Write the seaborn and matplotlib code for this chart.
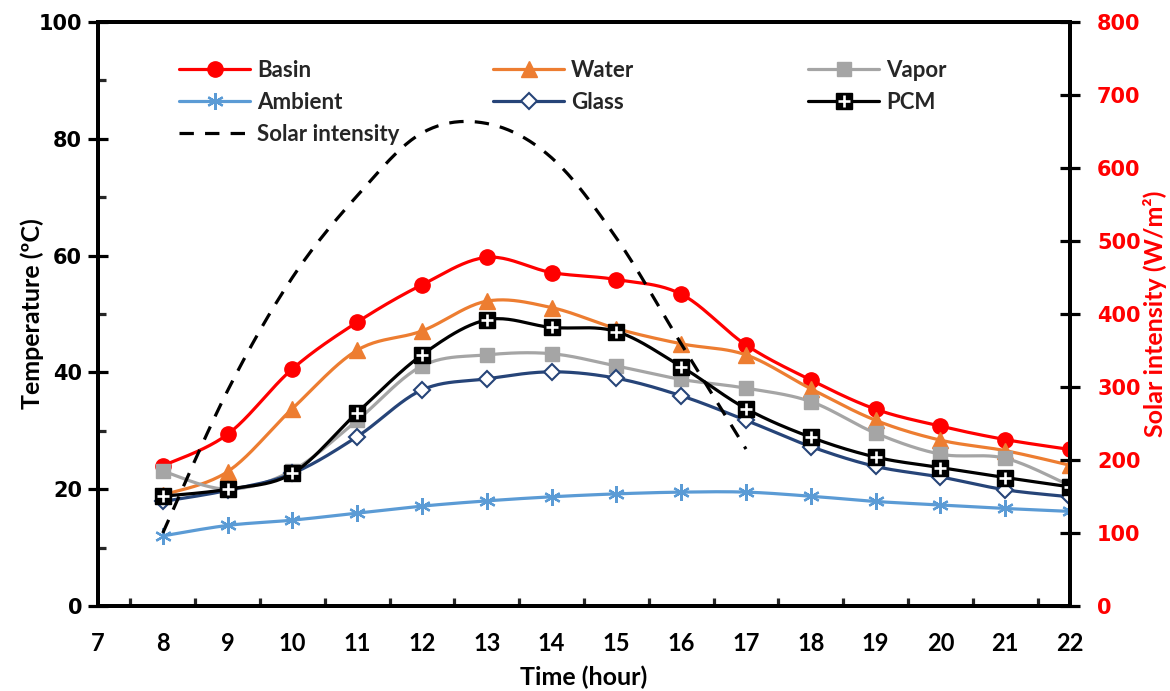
import numpy as np
import matplotlib
matplotlib.use("Agg")
import matplotlib.pyplot as plt
import seaborn as sns
from matplotlib.lines import Line2D
from matplotlib.legend_handler import HandlerTuple
from matplotlib.ticker import MultipleLocator, FixedLocator

# ---------------- data ----------------
hours = [8, 9, 10, 11, 12, 13, 14, 15, 16, 17, 18, 19, 20, 21, 22]
basin = [24.0, 29.4, 40.6, 48.6, 55.0, 59.7, 57.1, 55.9, 53.4, 44.7, 38.7, 33.7, 30.8, 28.5, 26.8]
water = [19.0, 23.0, 33.8, 43.8, 47.1, 52.2, 51.1, 47.5, 44.9, 43.0, 37.2, 31.8, 28.4, 26.6, 24.1]
vapor = [23.1, 20.0, 23.2, 31.8, 41.1, 43.0, 43.2, 41.1, 38.8, 37.3, 35.0, 29.6, 26.0, 25.3, 20.6]
ambient = [12.0, 13.8, 14.7, 15.9, 17.1, 18.0, 18.7, 19.2, 19.5, 19.5, 18.8, 17.9, 17.3, 16.7, 16.2]
glass = [17.9, 19.8, 22.7, 29.0, 37.0, 38.9, 40.1, 39.0, 36.0, 31.8, 27.3, 23.9, 22.1, 19.9, 18.7]
pcm = [18.8, 20.0, 22.7, 33.1, 43.0, 49.0, 47.7, 47.0, 41.0, 33.8, 28.9, 25.5, 23.7, 22.0, 20.4]

solar_hours = [8, 9, 10, 11, 12, 13, 14, 15, 16, 17]
solar = [100, 295, 450, 562, 648, 661, 614, 504, 359, 215]

x_ticks = list(range(7, 23))
temp_ticks = [0, 20, 40, 60, 80, 100]
solar_ticks = [0, 100, 200, 300, 400, 500, 600, 700, 800]

# ---------------- style ----------------
sns.set_theme(style="white")
plt.rcParams["font.family"] = ["Lato", "DejaVu Sans"]
plt.rcParams["axes.edgecolor"] = "black"

RED = "#FF0000"
ORANGE = "#ED7D31"
GRAY = "#A5A5A5"
LBLUE = "#5B9BD5"
DBLUE = "#264478"
BLACK = "#000000"
LW = 2.3


def smooth(x, y, n=24):
    """Excel-like smoothed path (Catmull-Rom through the data points)."""
    P = np.column_stack([np.asarray(x, float), np.asarray(y, float)])
    P = np.vstack([P[0], P, P[-1]])
    t = np.linspace(0, 1, n, endpoint=False)[:, None]
    segs = []
    for i in range(1, len(P) - 2):
        p0, p1, p2, p3 = P[i - 1], P[i], P[i + 1], P[i + 2]
        segs.append(0.5 * (2 * p1 + (-p0 + p2) * t
                           + (2 * p0 - 5 * p1 + 4 * p2 - p3) * t ** 2
                           + (-p0 + 3 * p1 - 3 * p2 + p3) * t ** 3))
    segs.append(P[-2][None, :])
    s = np.vstack(segs)
    return s[:, 0], s[:, 1]


fig = plt.figure(figsize=(11.7, 6.91), dpi=100)
ax = fig.add_axes([98 / 1170, 1 - 606 / 691, (1070 - 98) / 1170, (606 - 22) / 691])
ax2 = ax.twinx()

ASTERISK = (6, 2, 0)

series = [
    ("Basin", basin, RED, dict(marker="o", markersize=11, mfc=RED, mec=RED, mew=1)),
    ("Water", water, ORANGE, dict(marker="^", markersize=11, mfc=ORANGE, mec=ORANGE, mew=1)),
    ("Vapor", vapor, GRAY, dict(marker="s", markersize=10, mfc=GRAY, mec=GRAY, mew=1)),
    ("Ambient", ambient, LBLUE, dict(marker=ASTERISK, markersize=12, mfc=LBLUE, mec=LBLUE, mew=1.6)),
    ("Glass", glass, DBLUE, dict(marker="D", markersize=8.5, mfc="white", mec=DBLUE, mew=1.5)),
    ("PCM", pcm, BLACK, dict(marker="s", markersize=11, mfc=BLACK, mec=BLACK, mew=1)),
]

handles = {}
for z, (name, vals, col, mk) in enumerate(series):
    sx, sy = smooth(hours, vals)
    sns.lineplot(x=sx, y=sy, ax=ax, color=col, lw=LW, sort=False, estimator=None,
                 zorder=3 + z)
    sns.lineplot(x=hours, y=vals, ax=ax, color=col, linestyle="none", sort=False,
                 estimator=None, zorder=3.5 + z, **mk)
    h = Line2D([], [], color=col, lw=LW, **mk)
    if name == "PCM":
        sns.lineplot(x=hours, y=vals, ax=ax, color="white", linestyle="none", sort=False,
                     estimator=None, marker="+", markersize=9, mew=1.9, zorder=3.6 + z)
        plus = Line2D([], [], color="white", linestyle="none", marker="+",
                      markersize=9, mew=1.9)
        h = (h, plus)
    handles[name] = h

# solar intensity on secondary axis
ssx, ssy = smooth(solar_hours, solar)
sns.lineplot(x=ssx, y=ssy, ax=ax2, color=BLACK, lw=LW, sort=False, estimator=None,
             dashes=False, linestyle=(0, (4.5, 3.5)))
handles["Solar intensity"] = Line2D([], [], color=BLACK, lw=LW, linestyle=(0, (4.5, 3.5)))

# ---------------- axes ----------------
ax.set_xlim(7, 22)
ax.set_ylim(0, 100)
ax2.set_ylim(0, 800)

ax.set_xticks(x_ticks)
ax.set_xticklabels([str(v) for v in x_ticks])
ax.xaxis.set_minor_locator(FixedLocator(np.arange(7.5, 22, 1.0)))
ax.set_yticks(temp_ticks)
ax.set_yticklabels([str(v) for v in temp_ticks])
ax.yaxis.set_minor_locator(MultipleLocator(10))
ax2.set_yticks(solar_ticks)
ax2.set_yticklabels([str(v) for v in solar_ticks])

for a in (ax, ax2):
    for sp in a.spines.values():
        sp.set_visible(True)
        sp.set_linewidth(2.8)
        sp.set_color("black")
    a.grid(False)

ax.tick_params(axis="x", which="major", direction="inout", length=15, width=2.3,
               pad=11, labelsize=17, colors="black")
ax.tick_params(axis="x", which="minor", direction="in", length=6, width=2.3, bottom=True)
ax.tick_params(axis="y", which="major", direction="inout", length=15, width=2.3,
               pad=4, labelsize=15, colors="black")
ax.tick_params(axis="y", which="minor", direction="in", length=6, width=2.3, left=True)
ax2.tick_params(axis="y", which="major", direction="inout", length=15, width=2.3,
                pad=12, labelsize=15, color="black", labelcolor=RED)

for lbl in ax.get_xticklabels():
    lbl.set_fontfamily("Lato")
    lbl.set_fontweight("bold")
for lbl in ax.get_yticklabels():
    lbl.set_fontfamily("DejaVu Sans")
    lbl.set_fontweight("bold")
for lbl in ax2.get_yticklabels():
    lbl.set_fontfamily("DejaVu Sans")
    lbl.set_fontweight("bold")

ax.set_xlabel("Time (hour)", fontsize=18, fontweight="bold", family="Lato", color="black")
ax.set_ylabel("Temperature (ºC)", fontsize=18, fontweight="bold", family="Lato", color="black")
ax2.set_ylabel("Solar intensity (W/m²)", fontsize=18, fontweight="bold", family="Lato", color=RED)
ax.xaxis.set_label_coords(0.5, -0.102)
ax.yaxis.set_label_coords(-0.056, 0.5)
ax2.yaxis.set_label_coords(1.075, 0.5)

# ---------------- legend (three columns) ----------------
columns = [
    (["Basin", "Ambient", "Solar intensity"], 179),
    (["Water", "Glass"], 493),
    (["Vapor", "PCM"], 808),
]
legs = []
for names, xpx in columns:
    leg = ax2.legend([handles[n] for n in names], names,
                     loc="upper left", bbox_to_anchor=(xpx / 1170, 1 - 60 / 691),
                     bbox_transform=fig.transFigure, frameon=False,
                     prop={"family": "Lato", "weight": "bold", "size": 16},
                     handlelength=3.2, handletextpad=0.3, labelspacing=0.5,
                     borderpad=0, borderaxespad=0,
                     handler_map={tuple: HandlerTuple(ndivide=1)})
    legs.append(leg)
for leg in legs[:-1]:
    ax2.add_artist(leg)

fig.savefig("out.png", dpi=100)
